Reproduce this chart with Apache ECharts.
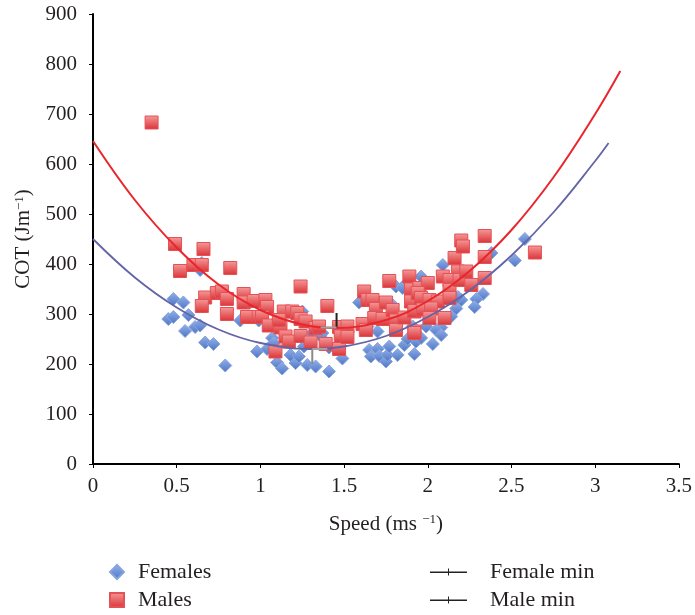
<!DOCTYPE html>
<html><head><meta charset="utf-8">
<script src="https://cdn.jsdelivr.net/npm/echarts@6/dist/echarts.min.js"></script>
<style>html,body{margin:0;padding:0;background:#fff}#c{width:695px;height:615px}</style>
</head><body><div id="c"></div>
<script>
// ---- data ----
const females = [[0.65,402],[0.64,388],[0.48,330],[0.54,323],[0.45,290],[0.48,294],[0.57,298],[0.55,266],[0.61,274],[0.64,277],[0.67,243],[0.72,240],[0.79,197],[0.88,287],[0.98,225],[0.99,287],[1.04,230],[1.07,252],[1.08,242],[1.10,203],[1.13,191],[1.18,218],[1.21,202],[1.23,215],[1.26,235],[1.25,305],[1.28,198],[1.33,195],[1.37,262],[1.41,185],[1.31,262],[1.36,256],[1.49,211],[1.41,233],[1.59,323],[1.65,228],[1.66,215],[1.70,230],[1.71,216],[1.75,205],[1.76,218],[1.77,235],[1.82,218],[1.86,238],[1.92,220],[1.93,245],[1.70,265],[1.81,355],[1.85,354],[1.79,318],[1.64,275],[2.09,398],[1.96,375],[1.85,352],[2.38,422],[2.58,450],[2.52,407],[2.33,340],[2.29,330],[2.28,314],[2.20,328],[2.17,311],[2.14,295],[2.08,273],[2.05,268],[2.08,258],[2.03,240],[1.99,275],[1.96,252],[1.91,275],[2.18,334],[1.72,290],[1.88,250],[2.00,300]];
const males = [[0.35,683],[0.49,440],[0.66,430],[0.52,386],[0.60,398],[0.65,398],[0.82,392],[0.67,333],[0.65,316],[0.74,342],[0.77,345],[0.80,330],[0.80,300],[0.90,340],[0.90,323],[0.96,326],[0.92,294],[0.99,294],[1.03,328],[1.04,314],[1.01,294],[1.05,277],[1.12,273],[1.14,305],[1.19,305],[1.22,302],[1.24,355],[1.24,290],[1.27,285],[1.15,255],[1.17,245],[1.24,256],[1.30,243],[1.09,225],[1.33,272],[1.35,275],[1.40,316],[1.39,240],[1.47,274],[1.52,275],[1.48,255],[1.47,230],[1.52,254],[1.61,280],[1.62,345],[1.64,328],[1.67,328],[1.63,268],[1.69,310],[1.68,292],[1.73,290],[1.75,323],[1.77,366],[1.79,308],[1.81,287],[1.81,268],[1.86,293],[1.89,375],[1.90,349],[1.90,325],[1.92,305],[1.92,265],[1.95,345],[1.95,352],[2.00,362],[1.94,342],[1.96,332],[2.01,328],[2.06,325],[1.92,306],[1.97,309],[2.02,311],[2.01,292],[1.92,262],[2.09,375],[2.16,412],[2.18,385],[2.13,368],[2.13,348],[2.13,332],[2.19,368],[2.23,385],[2.26,358],[2.20,447],[2.21,435],[2.34,456],[2.34,414],[2.34,372],[2.64,423],[2.10,292],[1.11,288]];
// fitted curves
const femaleFitX = [0, 0.25, 0.5, 0.75, 1.0, 1.3, 1.5, 1.75, 2.0, 2.25, 2.5, 2.75, 3.0, 3.08];
const femaleFitY = [450, 373, 313, 269, 242, 230, 235, 256, 294, 347, 417, 503, 606, 642];
const maleFitX = [0, 0.25, 0.5, 0.75, 1.0, 1.25, 1.45, 1.75, 2.0, 2.25, 2.5, 2.75, 3.0, 3.15];
const maleFitY = [646, 528, 433, 359, 308, 279, 272, 288, 326, 386, 468, 573, 700, 786];
// minima with their error-bar ends [x, y, yEnd, xEnd]
const femaleMin = [1.31, 230, 200, 1.40];
const maleMin = [1.455, 273, 302, 1.36];
// axes
const xTicks = {min: 0, max: 3.5, step: 0.5};
const yTicks = {min: 0, max: 900, step: 100};
const legendLeft = ['Females', 'Males'];
const legendRight = ['Female min', 'Male min'];

const FONT = 'Liberation Serif';
const TXT = '#231f20';
const zip = (xs, ys) => xs.map((x, i) => [x, ys[i]]);

function errRender(vColor, hColor) {
  return function (params, api) {
    const p = api.coord([api.value(0), api.value(1)]);
    const pv = api.coord([api.value(0), api.value(2)]);
    const ph = api.coord([api.value(3), api.value(1)]);
    return {type: 'group', children: [
      {type: 'line', shape: {x1: p[0], y1: p[1], x2: pv[0], y2: pv[1]}, style: {stroke: vColor, lineWidth: 2}},
      {type: 'line', shape: {x1: p[0], y1: p[1], x2: ph[0], y2: ph[1]}, style: {stroke: hColor, lineWidth: 2}}
    ]};
  };
}

const chart = echarts.init(document.getElementById('c'), null, {renderer: 'canvas'});
const maleGrad = new echarts.graphic.LinearGradient(0, 0, 0, 1, [{offset: 0, color: '#f59a9a'}, {offset: 1, color: '#db3236'}]);
const femGrad = new echarts.graphic.LinearGradient(0, 0, 0, 1, [{offset: 0, color: '#93b2ec'}, {offset: 1, color: '#4e74c2'}]);
const minIcon = 'path://M0,4L18,4L18,1L19,1L19,4L37,4L37,5.5L19,5.5L19,8L18,8L18,5.5L0,5.5Z';

chart.setOption({
  animation: false,
  backgroundColor: '#fff',
  grid: {left: 93, right: 15, top: 14, bottom: 151, containLabel: false},
  xAxis: {
    type: 'value', min: xTicks.min, max: xTicks.max, interval: xTicks.step,
    splitLine: {show: false},
    axisLine: {show: true, onZero: false, lineStyle: {color: '#000', width: 2}},
    axisTick: {show: true, length: 4, lineStyle: {color: '#000'}},
    axisLabel: {fontFamily: FONT, fontSize: 21, color: TXT, margin: 12},
    name: 'Speed (ms {sup|−1})', nameLocation: 'middle', nameGap: 49,
    nameTextStyle: {fontFamily: FONT, fontSize: 21, color: TXT, lineHeight: 22,
      rich: {sup: {fontFamily: FONT, fontSize: 13, color: TXT, verticalAlign: 'top', lineHeight: 22}}}
  },
  yAxis: {
    type: 'value', min: yTicks.min, max: yTicks.max, interval: yTicks.step,
    splitLine: {show: false},
    axisLine: {show: true, onZero: false, lineStyle: {color: '#000', width: 2}},
    axisTick: {show: true, length: 4, lineStyle: {color: '#000'}},
    axisLabel: {fontFamily: FONT, fontSize: 21, color: TXT, margin: 16},
    name: 'COT (Jm{sup|−1})', nameLocation: 'middle', nameGap: 54, nameRotate: 90,
    nameTextStyle: {fontFamily: FONT, fontSize: 21, color: TXT, lineHeight: 22,
      rich: {sup: {fontFamily: FONT, fontSize: 13, color: TXT, verticalAlign: 'top', lineHeight: 22}}}
  },
  legend: [
    {data: legendLeft, orient: 'vertical', left: 104, top: 555, height: 60, itemWidth: 14, itemHeight: 14, itemGap: 4,
      textStyle: {fontFamily: FONT, fontSize: 22, color: TXT, lineHeight: 24, padding: [0, 0, 0, 9]}},
    {data: legendRight.map(n => ({name: n, icon: minIcon})), orient: 'vertical', left: 425, top: 555, height: 60,
      itemWidth: 37, itemHeight: 9, itemGap: 4,
      textStyle: {fontFamily: FONT, fontSize: 22, color: TXT, lineHeight: 24, padding: [0, 0, 0, 18]}}
  ],
  series: [
    {name: 'Females', type: 'scatter', data: females, symbol: 'diamond', symbolSize: 13, z: 2,
      itemStyle: {color: femGrad, borderColor: '#86a4de', borderWidth: 1, opacity: 1}},
    {name: 'Males', type: 'scatter', data: males, symbol: 'rect', symbolSize: 13, z: 3,
      itemStyle: {color: maleGrad, borderColor: '#e55256', borderWidth: 1, opacity: 1}},
    {name: 'femaleFit', type: 'line', data: zip(femaleFitX, femaleFitY), smooth: 0.4, showSymbol: false, z: 4,
      lineStyle: {color: '#6264a6', width: 1.8}, silent: true},
    {name: 'maleFit', type: 'line', data: zip(maleFitX, maleFitY), smooth: 0.4, showSymbol: false, z: 4,
      lineStyle: {color: '#e8262c', width: 2}, silent: true},
    {name: 'Female min', type: 'custom', data: [femaleMin], renderItem: errRender('#8a8a8a', '#a0a0a0'), z: 5,
      itemStyle: {color: '#222'}},
    {name: 'Male min', type: 'custom', data: [maleMin], renderItem: errRender('#222', '#a0a0a0'), z: 5,
      itemStyle: {color: '#222'}}
  ]
});
</script></body></html>
